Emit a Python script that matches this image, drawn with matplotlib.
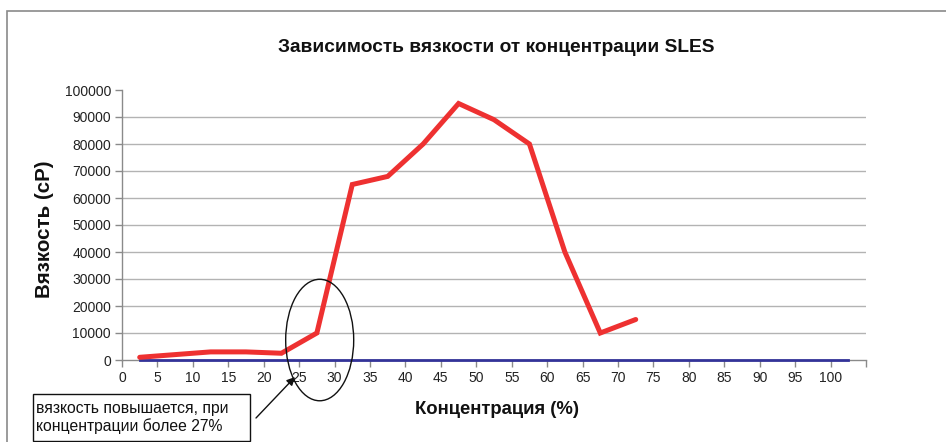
import matplotlib
matplotlib.use("Agg")
import matplotlib.pyplot as plt
from matplotlib.patches import Ellipse, Rectangle

plt.rcParams['font.family'] = ['Liberation Sans', 'DejaVu Sans']

# Data
conc_red = [2.5, 7.5, 12.5, 17.5, 22.5, 27.5, 32.5, 37.5, 42.5, 47.5, 52.5, 57.5, 62.5, 67.5, 72.5]
visc_red = [1000, 2000, 3000, 3000, 2500, 10000, 65000, 68000, 80000, 95000, 89000, 80000, 40000, 10000, 15000]
conc_blue = [2.5, 7.5, 12.5, 17.5, 22.5, 27.5, 32.5, 37.5, 42.5, 47.5, 52.5,
             57.5, 62.5, 67.5, 72.5, 77.5, 82.5, 87.5, 92.5, 97.5, 102.5]
visc_blue = [0] * 21
x_ticks = list(range(0, 105, 5))
y_ticks = list(range(0, 100001, 10000))

title = "Зависимость вязкости от концентрации SLES"
xlabel = "Концентрация (%)"
ylabel = "Вязкость (cP)"
note = "вязкость повышается, при\nконцентрации более 27%"

W, H = 946, 442
fig = plt.figure(figsize=(W / 100, H / 100), dpi=100)
ax = fig.add_axes([122 / W, 1 - 360 / H, (866 - 122) / W, (360 - 90) / H])

# outer chart frame
fig.patches.append(Rectangle((6.5 / W, -0.05), 1.2, 1 - 10.5 / H + 0.05,
                             transform=fig.transFigure, fill=False,
                             edgecolor='#8a8a8a', linewidth=1.2))

ax.set_xlim(0, 105)
ax.set_ylim(0, 100000)
for v in y_ticks[1:-1]:
    ax.axhline(v, color='#b3b3b3', linewidth=1.0, zorder=1)

ax.plot(conc_blue, visc_blue, color='#333399', linewidth=2.0, zorder=3, clip_on=False)
ax.plot(conc_red, visc_red, color='#EE3131', linewidth=3.6, zorder=4,
        solid_capstyle='round', solid_joinstyle='miter')

ax.set_xticks(x_ticks + [105])
ax.set_xticklabels([str(t) for t in x_ticks] + [''])
ax.set_yticks(y_ticks)
ax.set_yticklabels([str(t) for t in y_ticks])
ax.tick_params(axis='both', colors='#8a8a8a', labelcolor='#222222', labelsize=10,
               length=5, width=1, direction='out')
ax.tick_params(axis='x', pad=3)
ax.tick_params(axis='y', pad=3)
for s in ['top', 'right']:
    ax.spines[s].set_visible(False)
for s in ['left', 'bottom']:
    ax.spines[s].set_color('#8a8a8a')
    ax.spines[s].set_linewidth(1)

fig.text(496 / W, 1 - 47 / H, title, ha='center', va='center',
         fontsize=13.8, fontweight='bold', color='#111111')
fig.text(497 / W, 1 - 410 / H, xlabel, ha='center', va='center',
         fontsize=13.3, fontweight='bold', color='#111111')
fig.text(45 / W, 1 - 229 / H, ylabel, ha='center', va='center', rotation=90,
         fontsize=14.8, fontweight='bold', color='#111111')

# ellipse highlight
ax.add_patch(Ellipse((27.9, 7400), 9.6, 45000, fill=False, edgecolor='#111111',
                     linewidth=1.0, clip_on=False, zorder=5))

# annotation box
fig.patches.append(Rectangle((33 / W, 1 - 441 / H), (250 - 33) / W, (441 - 394) / H,
                             transform=fig.transFigure, fill=False,
                             edgecolor='#111111', linewidth=1.0))
fig.text(36 / W, 1 - 417.5 / H, note, ha='left', va='center', fontsize=11.3,
         color='#111111', linespacing=1.15)
ax.annotate('', xy=(295, H - 377), xycoords='figure pixels',
            xytext=(256, H - 418), textcoords='figure pixels',
            arrowprops=dict(arrowstyle='-|>', color='#111111', lw=1.0,
                            mutation_scale=12, shrinkA=0, shrinkB=0))

fig.savefig('out.png', dpi=100)
